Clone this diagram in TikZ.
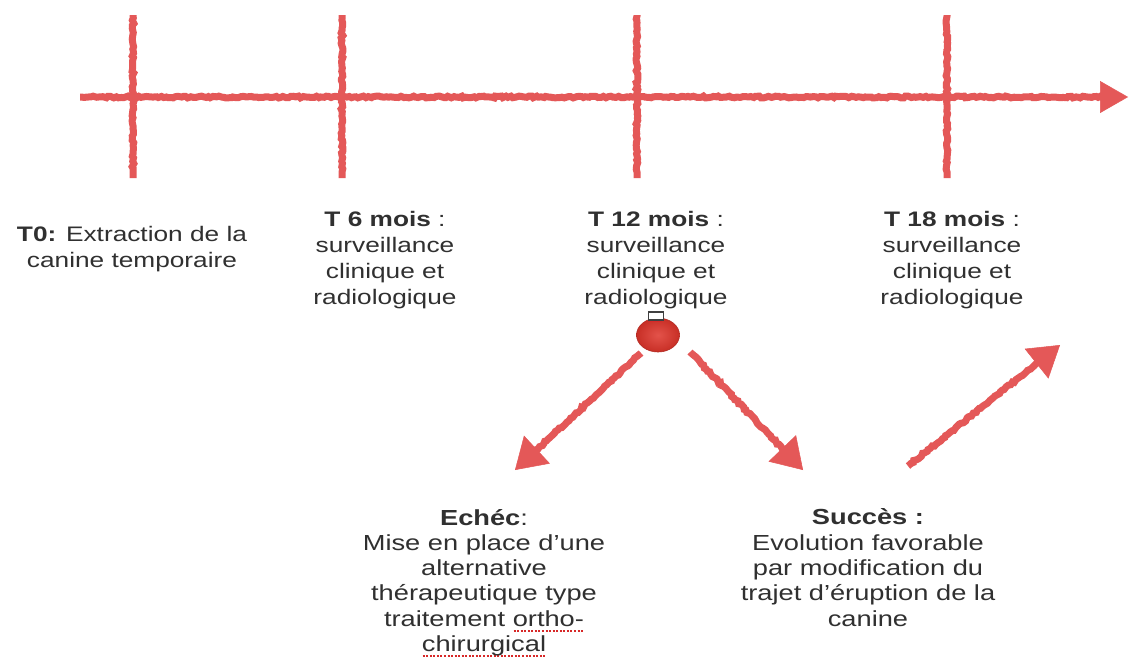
\documentclass[tikz,border=0pt]{standalone}
\usepackage{fontspec}
\setmainfont[FakeStretch=1.25]{Liberation Sans}
\usetikzlibrary{arrows.meta,decorations.pathmorphing,shapes.geometric}
\definecolor{sketch}{RGB}{228,88,88}
\definecolor{txt}{RGB}{48,48,48}
\definecolor{ballred}{RGB}{222,52,42}
\definecolor{spellred}{RGB}{215,40,40}
\newcommand\spellmark[1]{\setbox0\hbox{#1}\rlap{\raisebox{-5.5pt}[0pt][0pt]{\color{spellred}\hbox to \wd0{\xleaders\hbox to 3.5pt{\hss\rule{2pt}{1.6pt}\hss}\hfill}}}#1}
\begin{document}
\begin{tikzpicture}[x=1pt,y=-1pt,
  tl/.style={draw=sketch, line width=7pt, decorate,
    decoration={random steps, segment length=2.5pt, amplitude=0.9pt, pre length=1pt, post length=6pt}},
  arr/.style={tl, -{Triangle[length=30pt,width=38pt,line width=0.5pt]}, fill=none},
  lbl/.style={text=txt, align=center, inner sep=0pt, anchor=base,
    font=\fontsize{21}{26}\selectfont},
  lblb/.style={lbl, font=\fontsize{21.8}{25.3}\selectfont},
  ballst/.style={ellipse, draw=ballred!80!black, line width=0.6pt, inner color=ballred!85!white, outer color=ballred!90!black,
    minimum width=43pt, minimum height=34pt, inner sep=0pt},
  capst/.style={rectangle, draw=gray!50!black, fill=white, line width=1.2pt, minimum width=15pt, minimum height=8pt, inner sep=0pt}
]
\useasboundingbox (0,0) rectangle (1129,657);
\clip (0,0) rectangle (1129,657);
\fill[white] (0,0) rectangle (1129,657);

% timeline
\coordinate (ls) at (80,97);
\coordinate (le) at (1128,97);
\draw[tl, -{Triangle[length=28pt,width=32pt,line width=0.5pt]}, sketch] (ls) -- (le);
\foreach \n/\x in {k0/133,k6/342,k12/637,k18/947}{
  \coordinate (\n top) at (\x,15);
  \coordinate (\n bot) at (\x,178);
  \draw[tl] (\n top) -- (\n bot);
}

% labels (anchor = baseline of last line)
\node[lbl] (t0) at (132,267) {\textbf{T0:} Extraction de la\\canine temporaire};
\node[lbl] (t6) at (385,304) {\textbf{T 6 mois} :\\surveillance\\clinique et\\radiologique};
\node[lbl] (t12) at (656,304) {\textbf{T 12 mois} :\\surveillance\\clinique et\\radiologique};
\node[lbl] (t18) at (952,304) {\textbf{T 18 mois} :\\surveillance\\clinique et\\radiologique};
\node[lblb] (echec) at (484,651.5) {\textbf{Echéc}:\\Mise en place d’une\\alternative\\thérapeutique type\\traitement \spellmark{ortho-}\\\spellmark{chirurgical}};
\node[lblb] (succes) at (868,626) {\textbf{Succès :}\\Evolution favorable\\par modification du\\trajet d’éruption de la\\canine};

% ball
\node[ballst] (ball) at (658,335) {};
\node[capst] (cap) at (656,316) {};
\draw[spellred, line width=0.8pt] ([xshift=2pt,yshift=-1pt]cap.south west) -- ([xshift=-2pt,yshift=-1pt]cap.south east);

% arrows
\coordinate (a1s) at (641,353);
\coordinate (a1e) at (515,470);
\coordinate (a2s) at (690,352);
\coordinate (a2e) at (803,470);
\coordinate (a3s) at (908,466);
\coordinate (a3e) at (1060,345);
\draw[arr, sketch] (a1s) -- (a1e);
\draw[arr, sketch] (a2s) -- (a2e);
\draw[arr, sketch] (a3s) -- (a3e);
\end{tikzpicture}
\end{document}
